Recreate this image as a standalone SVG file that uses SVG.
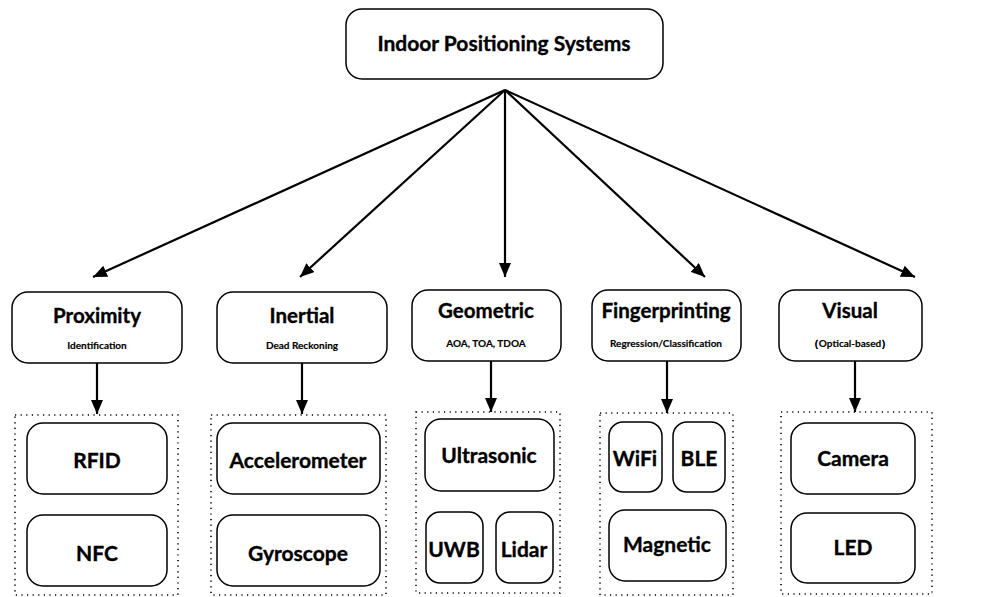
<svg xmlns="http://www.w3.org/2000/svg" width="992" height="597" viewBox="0 0 992 597">
<defs>
<marker id="ah" viewBox="0 0 14 12" refX="14" refY="6" markerWidth="14" markerHeight="12" markerUnits="userSpaceOnUse" orient="auto">
<path d="M0,0 L14,6 L0,12 Z" fill="#000"/>
</marker>
<style>
.box{fill:#fff;stroke:#000;stroke-width:1.5}
.dot{fill:none;stroke:#000;stroke-width:1.6;stroke-dasharray:1.2 4.4}
.ln{stroke:#000;stroke-width:2.2;fill:none;marker-end:url(#ah)}
text{font-family:Lato,"Liberation Sans",sans-serif;font-weight:bold;text-anchor:middle;fill:#000;stroke:#000;stroke-width:0.35}
.t0{font-size:21px}
.t1{font-size:20.5px}
.t2{font-size:10px;stroke-width:0.15}
.t3{font-size:21px}
</style>
</defs>
<g id="connectors">
<line class="ln" x1="505" y1="90" x2="93" y2="277"/>
<line class="ln" x1="505" y1="90" x2="300" y2="277"/>
<line class="ln" x1="505" y1="90" x2="505" y2="277"/>
<line class="ln" x1="505" y1="90" x2="705" y2="277"/>
<line class="ln" x1="505" y1="90" x2="915" y2="277"/>
<line class="ln" x1="97" y1="363" x2="97" y2="414"/>
<line class="ln" x1="302" y1="363" x2="302" y2="414"/>
<line class="ln" x1="491" y1="361" x2="491" y2="412"/>
<line class="ln" x1="667" y1="361" x2="667" y2="413"/>
<line class="ln" x1="855" y1="361" x2="855" y2="412"/>
</g>
<g id="root"><rect class="box" x="346" y="9" width="317" height="70" rx="16"/><text class="t0" x="504" y="51">Indoor Positioning Systems</text></g>
<g id="proximity"><rect class="box" x="12" y="292" width="170" height="71" rx="16"/><text class="t1" x="97" y="323">Proximity</text><text class="t2" x="97" y="349">Identification</text></g>
<g id="inertial"><rect class="box" x="217" y="292" width="170" height="71" rx="16"/><text class="t1" x="302" y="323">Inertial</text><text class="t2" x="302" y="349">Dead Reckoning</text></g>
<g id="geometric"><rect class="box" x="412" y="290" width="149" height="71" rx="16"/><text class="t1" x="486" y="318">Geometric</text><text class="t2" x="486" y="347">AOA, TOA, TDOA</text></g>
<g id="fingerprinting"><rect class="box" x="592" y="290" width="149" height="71" rx="16"/><text class="t1" x="666" y="318">Fingerprinting</text><text class="t2" x="666" y="347">Regression/Classification</text></g>
<g id="visual"><rect class="box" x="779" y="290" width="143" height="71" rx="16"/><text class="t1" x="850" y="318">Visual</text><text class="t2" x="850" y="347">（Optical-based）</text></g>
<g id="group-proximity"><rect class="dot" x="15" y="415" width="163" height="180"/></g>
<g id="group-inertial"><rect class="dot" x="211" y="415" width="175" height="180"/></g>
<g id="group-geometric"><rect class="dot" x="416" y="412" width="144" height="181"/></g>
<g id="group-fingerprinting"><rect class="dot" x="600" y="413" width="133" height="182"/></g>
<g id="group-visual"><rect class="dot" x="781" y="412" width="151" height="182"/></g>
<g id="rfid"><rect class="box" x="27" y="423" width="140" height="71" rx="16"/><text class="t3" x="97" y="468">RFID</text></g>
<g id="nfc"><rect class="box" x="27" y="515" width="140" height="71" rx="16"/><text class="t3" x="97" y="561">NFC</text></g>
<g id="accelerometer"><rect class="box" x="217" y="423" width="163" height="71" rx="16"/><text class="t3" x="298" y="468">Accelerometer</text></g>
<g id="gyroscope"><rect class="box" x="217" y="515" width="163" height="71" rx="16"/><text class="t3" x="298" y="561">Gyroscope</text></g>
<g id="ultrasonic"><rect class="box" x="425" y="419" width="129" height="72" rx="16"/><text class="t3" x="489" y="463">Ultrasonic</text></g>
<g id="uwb"><rect class="box" x="426" y="512" width="57" height="71" rx="14"/><text class="t3" x="454" y="557">UWB</text></g>
<g id="lidar"><rect class="box" x="496" y="512" width="57" height="71" rx="14"/><text class="t3" x="524" y="557">Lidar</text></g>
<g id="wifi"><rect class="box" x="609" y="422" width="53" height="70" rx="14"/><text class="t3" x="635" y="466">WiFi</text></g>
<g id="ble"><rect class="box" x="673" y="422" width="52" height="70" rx="14"/><text class="t3" x="699" y="466">BLE</text></g>
<g id="magnetic"><rect class="box" x="609" y="510" width="117" height="71" rx="16"/><text class="t3" x="667" y="552">Magnetic</text></g>
<g id="camera"><rect class="box" x="791" y="423" width="124" height="71" rx="16"/><text class="t3" x="853" y="466">Camera</text></g>
<g id="led"><rect class="box" x="791" y="513" width="124" height="70" rx="16"/><text class="t3" x="853" y="555">LED</text></g>
</svg>
